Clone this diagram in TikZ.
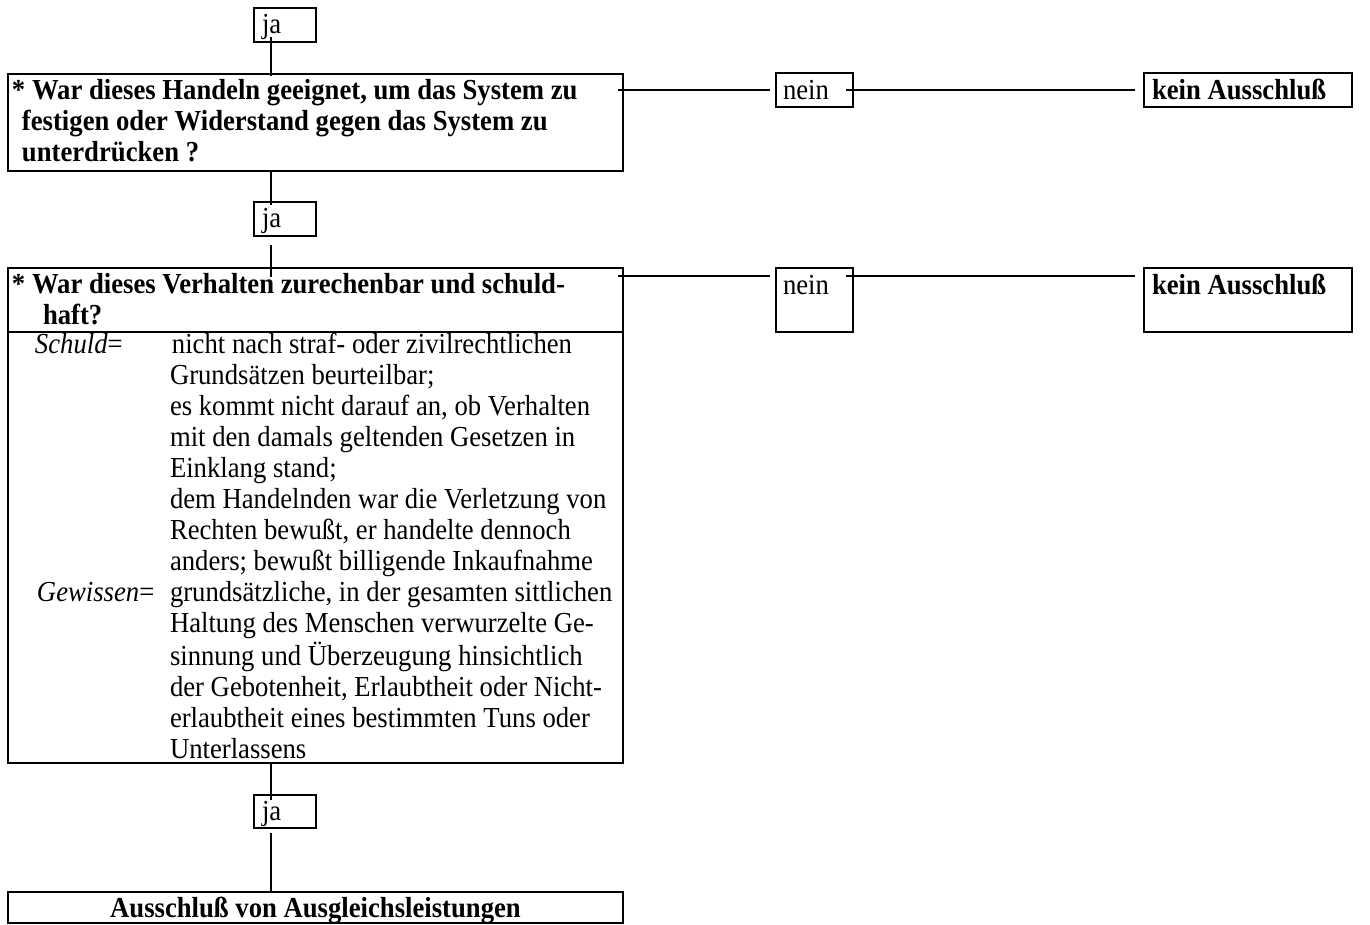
\documentclass[tikz,border=0pt]{standalone}
\usepackage{fontspec}
\setmainfont{Liberation Serif}[FakeStretch=0.92]
\newcommand\pb[3]{\parbox[c][#2][t]{#1}{#3}}
\newcommand\rows[1]{\begin{tabular}[t]{@{}l@{}}#1\end{tabular}}
\newcommand\lab[2]{\makebox[158pt][l]{\hspace*{#1}\textit{#2}=}}
\newcommand\ind{\hspace*{158pt}}
\begin{document}
\begin{tikzpicture}[x=1pt,y=-1pt,
  every node/.style={font=\fontsize{29}{31}\selectfont},
  frame/.style={draw,line width=1.6pt,anchor=north west,inner xsep=4pt,inner ysep=0pt,outer sep=0pt},
  link/.style={line width=1.4pt}]
\useasboundingbox (0,0) rectangle (1370,924);
\coordinate (col) at (271,0);
% column of questions
\node[frame] (ja1) at (254,8) {\pb{54pt}{34pt}{\rule{0pt}{25pt}\hspace*{4pt}ja}};
\node[frame] (q1) at (8,74) {\pb{607pt}{97pt}{\bfseries\rule{0pt}{25pt}\rows{* War dieses Handeln geeignet, um das System zu\\
\hspace*{10pt}festigen oder Widerstand gegen das System zu\\
\hspace*{10pt}unterdrücken ?}}};
\node[frame] (ja2) at (254,202) {\pb{54pt}{34pt}{\rule{0pt}{25pt}\hspace*{4pt}ja}};
\node[frame] (q2) at (8,268) {\pb{607pt}{64pt}{\bfseries\rule{0pt}{25pt}\rows{* War dieses Verhalten zurechenbar und schuld-\\
\hspace*{31pt}haft?}}};
\node[frame] (q2b) at (8,332) {\pb{607pt}{431pt}{\rule{0pt}{21pt}\rows{\lab{23pt}{Schuld}\hspace*{2pt}nicht nach straf- oder zivilrechtlichen\\
\ind Grundsätzen beurteilbar;\\
\ind es kommt nicht darauf an, ob Verhalten\\
\ind mit den damals geltenden Gesetzen in\\
\ind Einklang stand;\\
\ind dem Handelnden war die Verletzung von\\
\ind Rechten bewußt, er handelte dennoch\\
\ind anders; bewußt billigende Inkaufnahme\\
\lab{25pt}{Gewissen}grundsätzliche, in der gesamten sittlichen\\
\ind Haltung des Menschen verwurzelte Ge-\\
\ind sinnung und Überzeugung hinsichtlich\\
\ind der Gebotenheit, Erlaubtheit oder Nicht-\\
\ind erlaubtheit eines bestimmten Tuns oder\\
\ind Unterlassens}}};
\node[frame] (ja3) at (254,795) {\pb{54pt}{33pt}{\rule{0pt}{25pt}\hspace*{4pt}ja}};
\node[frame] (fin) at (8,892) {\parbox[c][31pt][t]{607pt}{\centering\bfseries\rule{0pt}{25pt}Ausschluß von Ausgleichsleistungen}};
% right side
\node[frame] (n1) at (776,73) {\pb{69pt}{34pt}{\rule{0pt}{26pt}\hspace*{3pt}nein}};
\node[frame] (k1) at (1144,73) {\pb{200pt}{34pt}{\bfseries\rule{0pt}{26pt}\hspace*{4pt}kein Ausschluß}};
\node[frame] (n2) at (776,268) {\pb{69pt}{64pt}{\rule{0pt}{26pt}\hspace*{3pt}nein}};
\node[frame] (k2) at (1144,268) {\pb{200pt}{64pt}{\bfseries\rule{0pt}{26pt}\hspace*{4pt}kein Ausschluß}};
% vertical connectors
\draw[link] ([yshift=5pt]ja1.south -| col) -- ([yshift=-2pt]q1.north -| col);
\draw[link] (q1.south -| col) -- ([yshift=-3pt]ja2.north -| col);
\draw[link] ([yshift=-9pt]ja2.south -| col) -- ([yshift=-9pt]q2.north -| col);
\draw[link] (q2b.south -| col) -- ([yshift=-5pt]ja3.north -| col);
\draw[link] ([yshift=-5pt]ja3.south -| col) -- (fin.north -| col);
% horizontal connectors
\draw[link] ([xshift=-5pt]q1.north east |- n1.west) -- ([xshift=-6pt]n1.west);
\draw[link] ([xshift=-7pt]n1.east) -- ([xshift=-9pt]k1.west);
\coordinate (r2) at ([yshift=-8pt]n2.north west);
\draw[link] ([xshift=-5pt]q2.north east |- r2) -- ([xshift=-6pt]r2);
\draw[link] ([xshift=-7pt]n2.east |- r2) -- ([xshift=-9pt]k2.west |- r2);
\end{tikzpicture}
\end{document}
